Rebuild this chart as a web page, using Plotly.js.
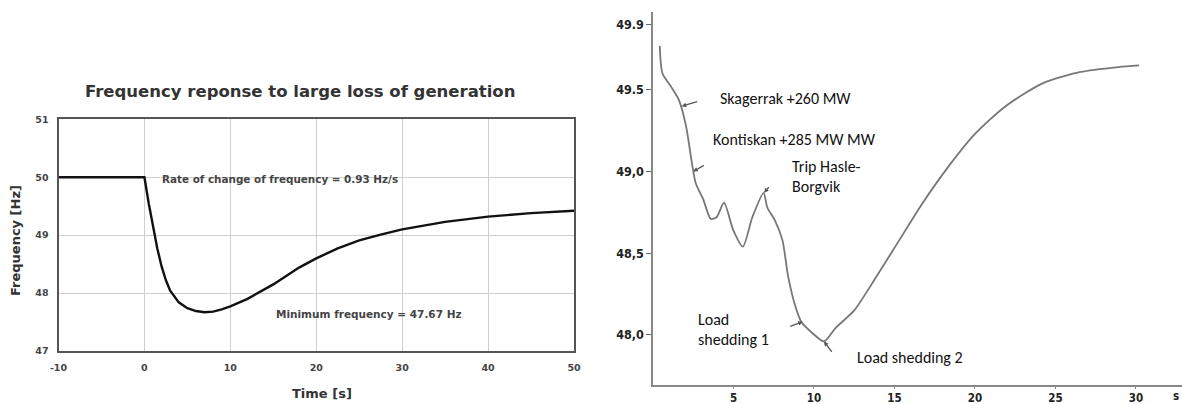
<!DOCTYPE html>
<html>
<head>
<meta charset="utf-8">
<script src="https://cdn.plot.ly/plotly-3.0.1.min.js"></script>
<style>html,body{margin:0;padding:0;background:#fff;}#chart{width:1182px;height:404px;}</style>
</head>
<body>
<div id="chart"></div>
<script>
// Left chart: simulated frequency response
const leftTime = [-10, 0, 0.5, 1, 1.5, 2, 2.5, 3, 4, 5, 6, 7, 8, 9, 10, 12, 13.2, 15, 18, 20, 22.5, 25, 27.5, 30, 35, 40, 45, 50];
const leftFreq = [50, 50, 49.55, 49.13, 48.77, 48.46, 48.22, 48.04, 47.84, 47.74, 47.69, 47.67, 47.68, 47.72, 47.77, 47.9, 48.0, 48.15, 48.44, 48.6, 48.77, 48.91, 49.01, 49.1, 49.23, 49.32, 49.38, 49.42];
const leftXTicks = [-10, 0, 10, 20, 30, 40, 50];
const leftXLabels = ['-10', '0', '10', '20', '30', '40', '50'];
const leftYTicks = [47, 48, 49, 50, 51];

// Right chart: recorded event
const rightTime = [0.42, 0.59, 1.12, 1.6, 2.05, 2.42, 2.65, 3.12, 3.59, 3.95, 4.41, 4.99, 5.58, 6.17, 6.87, 7.1, 7.58, 8.04, 8.39, 8.86, 9.21, 9.91, 10.62, 11.32, 12.5, 13.9, 15.3, 16.7, 18.35, 20.0, 21.9, 24.2, 26.56, 28.9, 30.2];
const rightFreq = [49.77, 49.60, 49.52, 49.44, 49.28, 49.05, 48.93, 48.83, 48.71, 48.72, 48.81, 48.64, 48.54, 48.72, 48.87, 48.78, 48.70, 48.58, 48.36, 48.17, 48.08, 48.01, 47.96, 48.04, 48.15, 48.36, 48.58, 48.80, 49.03, 49.23, 49.40, 49.54, 49.61, 49.64, 49.65];
const rightXTicks = [5, 10, 15, 20, 25, 30];
const rightYTicks = [48.0, 48.5, 49.0, 49.5, 49.9];
const rightYLabels = ['48,0', '48,5', '49,0', '49.5', '49.9'];

const leftFont = 'DejaVu Sans, sans-serif';
const rightFont = 'Carlito, Lato, sans-serif';
const narrowFont = 'Liberation Sans Narrow, DejaVu Sans Condensed, sans-serif';

const traces = [
  {x: leftTime, y: leftFreq, xaxis: 'x', yaxis: 'y', mode: 'lines', line: {color: '#111', width: 2.4, shape: 'linear'}, hoverinfo: 'skip'},
  {x: rightTime, y: rightFreq, xaxis: 'x2', yaxis: 'y2', mode: 'lines', line: {color: '#777', width: 1.8, shape: 'spline', smoothing: 0.7}, hoverinfo: 'skip'}
];

const arrow = (x, y, ax, ay) => ({xref: 'x2', yref: 'y2', x: x, y: y, ax: ax, ay: ay, text: '', showarrow: true, arrowhead: 2, arrowsize: 0.7, arrowwidth: 1.3, arrowcolor: '#555'});
const rtext = (x, y, t) => ({xref: 'paper', yref: 'paper', x: x / 1182, y: 1 - y / 404, text: t, showarrow: false, xanchor: 'left', yanchor: 'middle', align: 'left', font: {family: rightFont, size: 16, color: '#111'}});

const layout = {
  width: 1182, height: 404,
  margin: {l: 0, r: 0, t: 0, b: 0},
  paper_bgcolor: '#fff', plot_bgcolor: 'rgba(0,0,0,0)',
  showlegend: false,
  xaxis: {domain: [58.5 / 1182, 574 / 1182], range: [-10, 50], tickvals: leftXTicks, ticktext: leftXLabels, showline: true, mirror: true, linecolor: '#555', linewidth: 2,
          showgrid: true, gridcolor: '#cfcfcf', gridwidth: 1, zeroline: false, ticks: '', ticklabelstandoff: 7, tickfont: {family: leftFont, size: 9.5, color: '#444', weight: 'bold'}, anchor: 'y'},
  yaxis: {domain: [1 - 351 / 404, 1 - 119.3 / 404], range: [47, 51], tickvals: leftYTicks, showline: true, mirror: true, linecolor: '#555', linewidth: 2,
          showgrid: true, gridcolor: '#cfcfcf', gridwidth: 1, zeroline: false, ticks: '', ticklabelstandoff: 6, tickfont: {family: leftFont, size: 9.5, color: '#444', weight: 'bold'}, anchor: 'x'},
  xaxis2: {domain: [653 / 1182, 1], range: [0, 32.86], tickvals: rightXTicks, showline: true, linecolor: '#888', linewidth: 1.6, showgrid: false, zeroline: false,
           ticks: 'outside', ticklen: 2, tickcolor: '#888', tickfont: {family: narrowFont, size: 11.5, color: '#222', weight: 'bold'}, anchor: 'y2'},
  yaxis2: {domain: [1 - 385 / 404, 1 - 12 / 404], range: [47.693, 49.977], tickvals: rightYTicks, ticktext: rightYLabels, showline: true, linecolor: '#888', linewidth: 1.6,
           showgrid: false, zeroline: false, ticks: 'outside', ticklen: 5, tickcolor: '#666', tickfont: {family: narrowFont, size: 12.5, color: '#222', weight: 'bold'}, anchor: 'x2'},
  annotations: [
    {xref: 'paper', yref: 'paper', x: 300 / 1182, y: 1 - 92 / 404, text: 'Frequency reponse to large loss of generation', showarrow: false, xanchor: 'center', yanchor: 'middle',
     font: {family: leftFont, size: 16.5, color: '#333', weight: 'bold'}},
    {xref: 'paper', yref: 'paper', x: 15 / 1182, y: 1 - 241 / 404, text: 'Frequency [Hz]', textangle: -90, showarrow: false, xanchor: 'center', yanchor: 'middle',
     font: {family: leftFont, size: 13, color: '#333', weight: 'bold'}},
    {xref: 'paper', yref: 'paper', x: 322 / 1182, y: 1 - 393 / 404, text: 'Time [s]', showarrow: false, xanchor: 'center', yanchor: 'middle',
     font: {family: leftFont, size: 13, color: '#333', weight: 'bold'}},
    {xref: 'paper', yref: 'paper', x: 160 / 1182, y: 1 - 179 / 404, text: 'Rate of change of frequency = 0.93 Hz/s', showarrow: false, xanchor: 'left', yanchor: 'middle',
     font: {family: leftFont, size: 10.4, color: '#444', weight: 'bold'}},
    {xref: 'paper', yref: 'paper', x: 274 / 1182, y: 1 - 314 / 404, text: 'Minimum frequency = 47.67 Hz', showarrow: false, xanchor: 'left', yanchor: 'middle',
     font: {family: leftFont, size: 10.5, color: '#444', weight: 'bold'}},
    rtext(718, 98, 'Skagerrak +260 MW'),
    rtext(711, 139, 'Kontiskan +285 MW MW'),
    rtext(790, 167, 'Trip Hasle-'),
    rtext(790, 186, 'Borgvik'),
    rtext(696, 319, 'Load'),
    rtext(696, 339, 'shedding 1'),
    rtext(855, 357, 'Load shedding 2'),
    {xref: 'paper', yref: 'paper', x: 1176 / 1182, y: 1 - 396 / 404, text: 's', showarrow: false, xanchor: 'center', yanchor: 'middle',
     font: {family: narrowFont, size: 11.5, color: '#222', weight: 'bold'}},
    arrow(1.78, 49.40, 17, -5),
    arrow(2.5, 49.0, 12, -7),
    arrow(6.9, 48.87, 6, -7),
    arrow(9.3, 48.08, -14, 5),
    arrow(10.62, 47.96, 9, 12)
  ]
};

Plotly.newPlot('chart', traces, layout, {staticPlot: true, displayModeBar: false});
</script>
</body>
</html>
